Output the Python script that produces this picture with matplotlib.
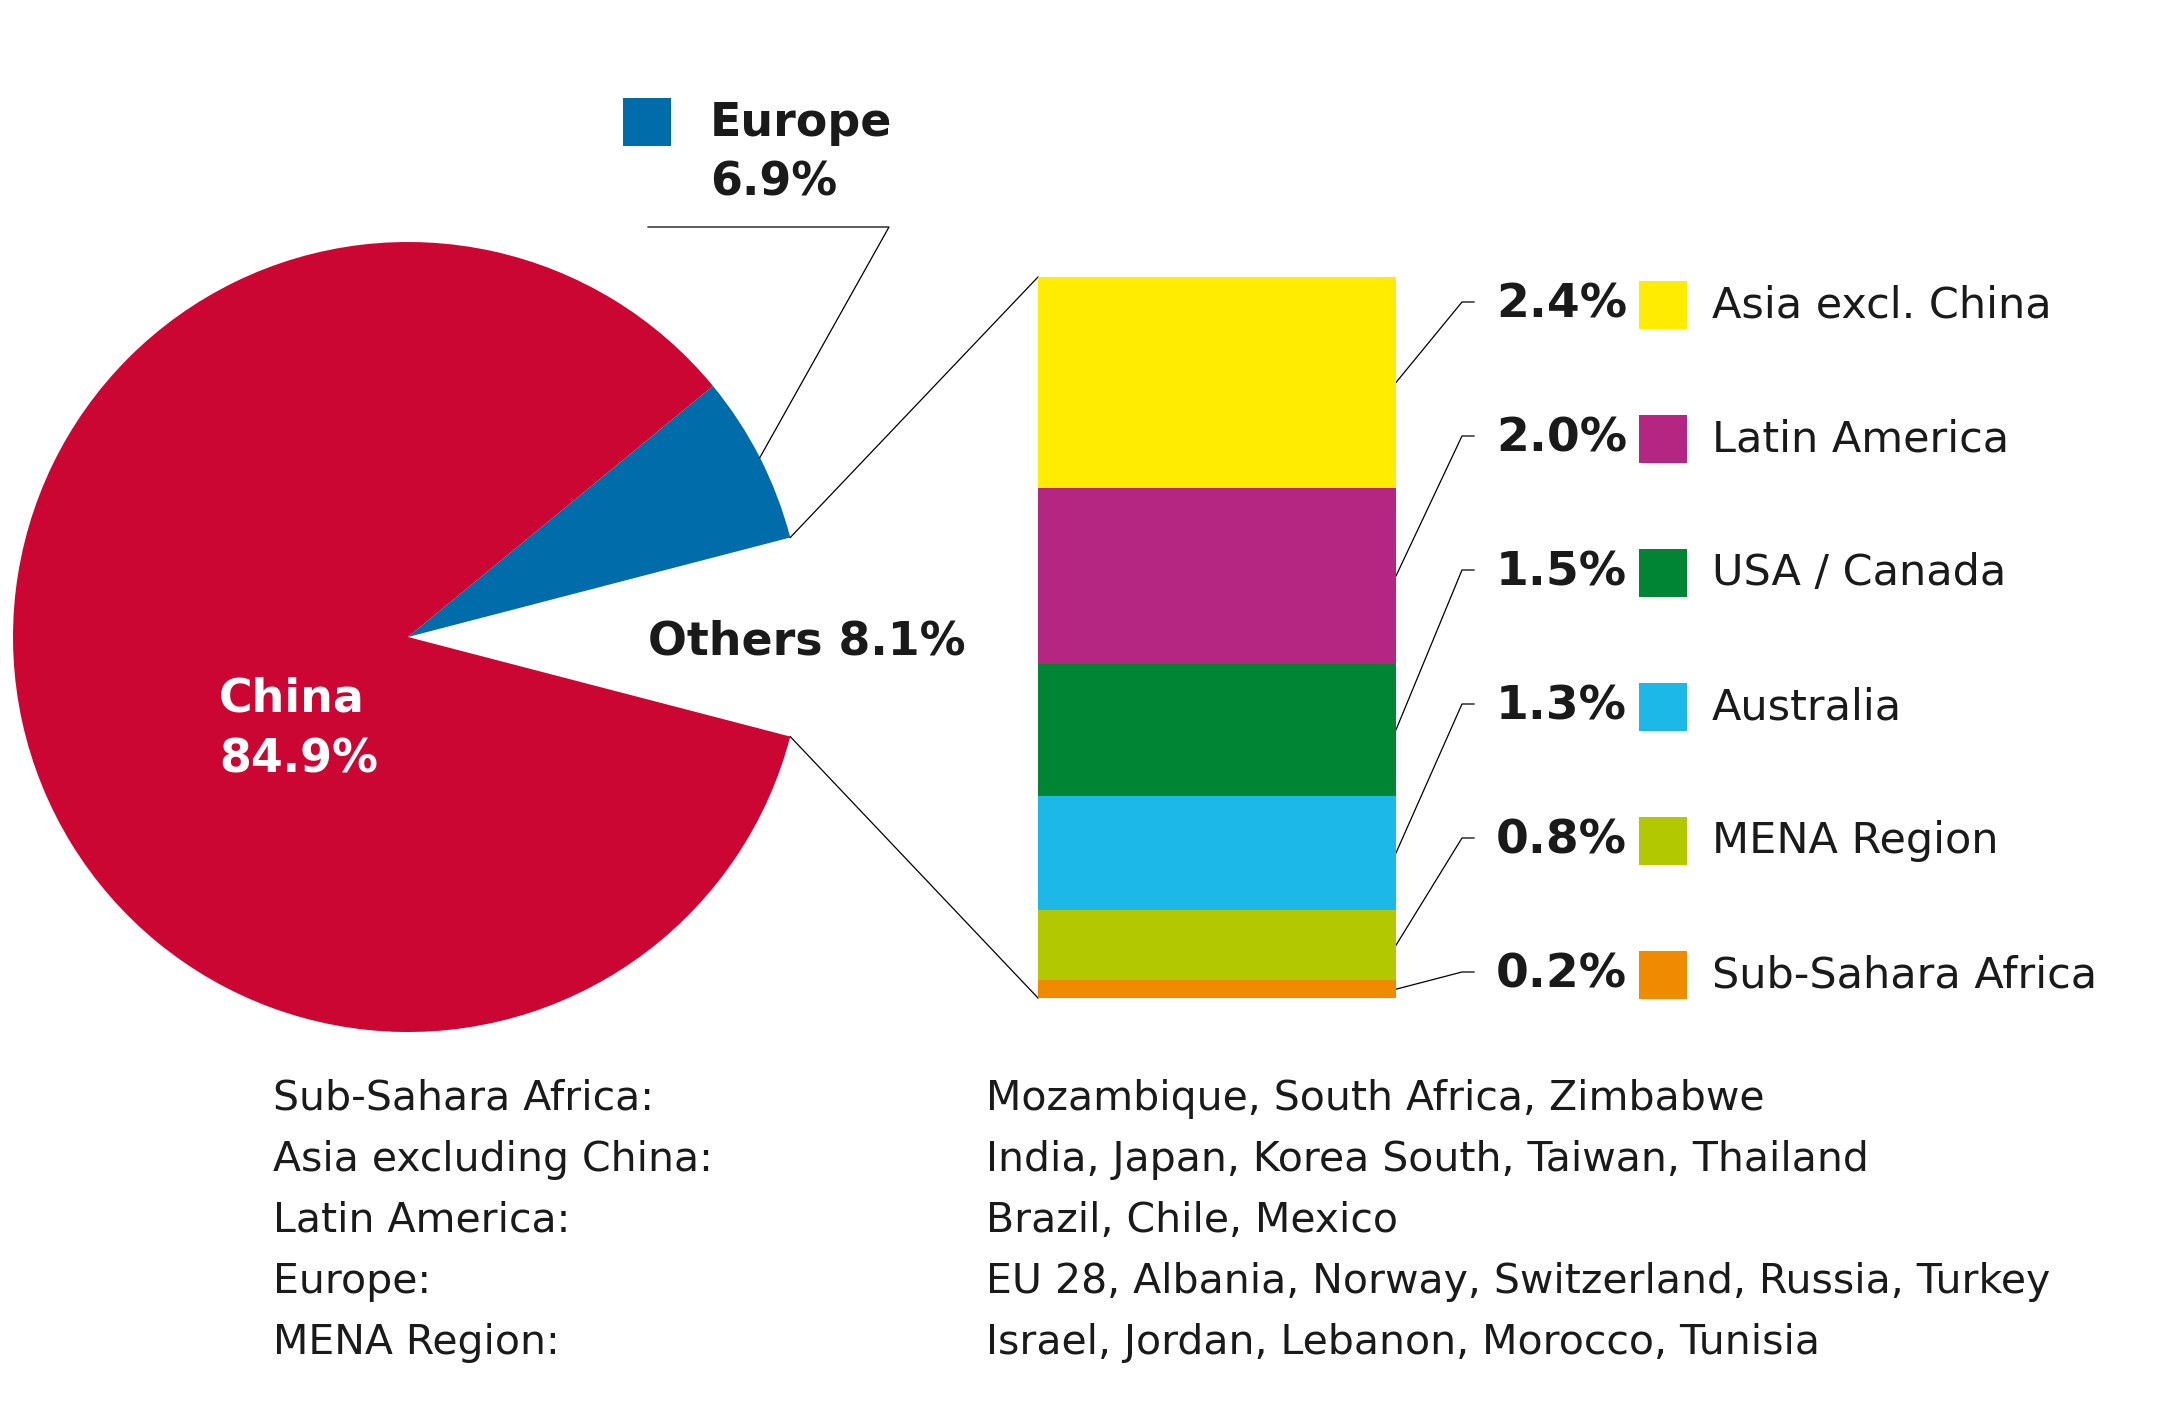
import matplotlib.pyplot as plt
import numpy as np

# Daten
pie_labels = ["Others", "Europe", "China"]
pie_values = [8.1, 6.9, 84.9]
pie_colors = ["none", "#006DAA", "#CC0633"]

region_names = ["Asia excl. China", "Latin America", "USA / Canada",
                "Australia", "MENA Region", "Sub-Sahara Africa"]
region_values = [2.4, 2.0, 1.5, 1.3, 0.8, 0.2]
region_colors = ["#FFEC00", "#B52582", "#008534", "#1CB9E8", "#B2C800", "#F08A00"]

notes_left = ["Sub-Sahara Africa:", "Asia excluding China:", "Latin America:",
              "Europe:", "MENA Region:"]
notes_right = ["Mozambique, South Africa, Zimbabwe",
               "India, Japan, Korea South, Taiwan, Thailand",
               "Brazil, Chile, Mexico",
               "EU 28, Albania, Norway, Switzerland, Russia, Turkey",
               "Israel, Jordan, Lebanon, Morocco, Tunisia"]

W, H = 2158, 1419
TXT = "#1a1a1a"
plt.rcParams['font.family'] = ['DejaVu Sans']

fig = plt.figure(figsize=(W / 100, H / 100), dpi=100)
ax = fig.add_axes([0, 0, 1, 1])

def Y(py):
    # Pixel von oben -> Datenkoordinate
    return H - py

# Kreisdiagramm
cx, cy, r = 408, 637, 395
wedges, _ = ax.pie(pie_values, colors=pie_colors, startangle=-14.6,
                   center=(cx, Y(cy)), radius=r, counterclock=True,
                   wedgeprops=dict(linewidth=0), frame=True)
ax.set_xlim(0, W)
ax.set_ylim(0, H)
ax.set_aspect('equal')
ax.axis('off')

def arc_point(ang):
    a = np.deg2rad(ang)
    return cx + r * np.cos(a), Y(cy) + r * np.sin(a)

# Europe Beschriftung
eu = wedges[1]
ex, ey = arc_point((eu.theta1 + eu.theta2) / 2)
ax.plot([ex, 889, 648], [ey, Y(227), Y(227)], color="black", lw=0.9)
ax.add_patch(plt.Rectangle((623, Y(146)), 48, 48, color=pie_colors[1], lw=0))
ax.text(710, Y(123), "Europe", fontsize=33, fontweight='bold', color=TXT, va='center')
ax.text(710, Y(183), f"{pie_values[1]}%", fontsize=33, fontweight='bold', color=TXT, va='center')

ax.text(648, Y(642), f"Others {pie_values[0]}%", fontsize=33, fontweight='bold',
        color=TXT, va='center')
ax.text(219, Y(699), "China", fontsize=33, fontweight='bold', color="white", va='center')
ax.text(219, Y(760), f"{pie_values[2]}%", fontsize=33, fontweight='bold', color="white", va='center')

# Gestapelter Balken
bx0, bx1, by_top, by_bot = 1038, 1396, 277, 998
bax = fig.add_axes([bx0 / W, (H - by_bot) / H, (bx1 - bx0) / W, (by_bot - by_top) / H])
total = sum(region_values)
bottom = 0
mids = []
for v, c in zip(region_values[::-1], region_colors[::-1]):
    bax.bar(0, v, bottom=bottom, width=1, color=c, linewidth=0)
    mids.append(bottom + v / 2)
    bottom += v
mids = mids[::-1]
bax.set_xlim(-0.5, 0.5)
bax.set_ylim(0, total)
bax.axis('off')

# Verbindungslinien Kreis -> Balken
ox0, oy0 = arc_point(wedges[0].theta2)
ox1, oy1 = arc_point(wedges[0].theta1)
ax.plot([ox0, bx0], [oy0, Y(by_top)], color="black", lw=0.9)
ax.plot([ox1, bx0], [oy1, Y(by_bot)], color="black", lw=0.9)

# Legende rechts
for i, (name, v, c, m) in enumerate(zip(region_names, region_values, region_colors, mids)):
    ry = 305 + 134 * i
    my = by_bot - m / total * (by_bot - by_top)
    ax.plot([bx1, 1462, 1474], [Y(my), Y(ry - 3), Y(ry - 3)], color="black", lw=0.9)
    ax.text(1627, Y(ry), f"{v:.1f}%", fontsize=34, fontweight='bold', color=TXT,
            ha='right', va='center')
    ax.add_patch(plt.Rectangle((1639, Y(ry + 24)), 48, 48, color=c, lw=0))
    ax.text(1712, Y(ry), name, fontsize=31, color=TXT, va='center')

# Anmerkungen unten
for i, (a, b) in enumerate(zip(notes_left, notes_right)):
    ny = 1099 + 61 * i
    ax.text(273, Y(ny), a, fontsize=29.5, color=TXT, va='center')
    ax.text(986, Y(ny), b, fontsize=29.5, color=TXT, va='center')

fig.savefig("out.png", dpi=100)
